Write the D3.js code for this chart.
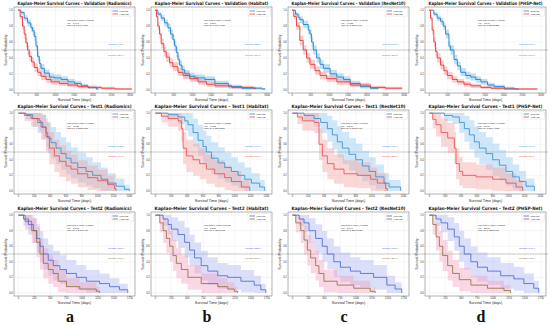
<!DOCTYPE html>
<html><head><meta charset="utf-8">
<script src="https://cdn.jsdelivr.net/npm/d3@7"></script>
<style>body{margin:0;background:#fff}svg{display:block}</style>
</head><body><svg id="c" width="550" height="325"></svg>
<script>
const models = ["Radiomics", "Habitat", "ResNet10", "PHSP-Net"];
const cohorts = ["Validation", "Test1", "Test2"];
const panelLetters = ["a", "b", "c", "d"];
const groupLabels = ["Low risk", "High risk"];
const xTicksValidation = [0, 500, 1000, 1500, 2000, 2500, 3000];
const xTicksTest1 = [0, 200, 400, 600, 800, 1000, 1200, 1400];
const xTicksTest2 = [0, 250, 500, 750, 1000, 1250, 1500, 1750];
const yTicks = [0, 0.2, 0.4, 0.6, 0.8, 1.0];

// Kaplan-Meier curves: [time (days), survival probability]
const valRadLow = [[0,1],[72,0.97],[162,0.9],[252,0.84],[342,0.78],[387,0.74],[432,0.67],[477,0.55],[522,0.42],[567,0.33],[612,0.27],[702,0.21],[837,0.16],[972,0.15],[1152,0.13],[1332,0.1],[1512,0.08],[1692,0.05],[1872,0.03],[2097,0.01],[2150,0.01]];
const valRadHigh = [[0,1],[54,0.92],[117,0.8],[162,0.7],[207,0.59],[252,0.5],[297,0.42],[360,0.35],[432,0.28],[522,0.22],[612,0.17],[747,0.13],[882,0.1],[1107,0.08],[1332,0.06],[1602,0.04],[1872,0.03],[2232,0.02],[2592,0.01],[3042,0.01]];
const valHabLow = [[0,1],[72,0.95],[162,0.9],[252,0.84],[342,0.78],[414,0.7],[477,0.63],[522,0.55],[567,0.47],[612,0.38],[657,0.31],[720,0.25],[792,0.2],[927,0.17],[1062,0.15],[1332,0.13],[1602,0.08],[1962,0.04],[2322,0.02],[2862,0.01],[2950,0.01]];
const valHabHigh = [[0,1],[36,0.92],[72,0.8],[117,0.7],[162,0.58],[234,0.48],[297,0.41],[387,0.34],[477,0.29],[612,0.22],[747,0.18],[927,0.14],[1152,0.1],[1377,0.07],[1602,0.05],[2052,0.03],[2637,0.02],[2700,0.02]];
const valResLow = [[0,1],[90,0.95],[162,0.91],[207,0.88],[297,0.82],[432,0.75],[477,0.7],[522,0.6],[567,0.5],[657,0.4],[747,0.32],[837,0.27],[1017,0.2],[1197,0.16],[1377,0.13],[1557,0.08],[1827,0.04],[2097,0.02],[2300,0.01]];
const valResHigh = [[0,1],[45,0.92],[117,0.8],[207,0.62],[297,0.5],[387,0.4],[477,0.32],[612,0.24],[747,0.18],[927,0.14],[1197,0.1],[1557,0.06],[2097,0.03],[2500,0.02],[2950,0.02]];
const valPhsLow = [[0,1],[126,0.95],[216,0.9],[306,0.86],[378,0.8],[441,0.7],[531,0.55],[576,0.5],[666,0.38],[756,0.3],[846,0.22],[981,0.18],[1116,0.16],[1251,0.13],[1386,0.1],[1566,0.06],[1746,0.04],[2016,0.02],[2286,0.01],[2400,0.01]];
const valPhsHigh = [[0,1],[36,0.9],[81,0.75],[126,0.6],[171,0.48],[216,0.4],[306,0.31],[396,0.24],[486,0.18],[621,0.13],[756,0.1],[936,0.07],[1116,0.05],[1386,0.03],[1656,0.02],[2016,0.01],[2900,0.01]];

const t1RadLow = [[0,1],[97,0.98],[181,0.93],[244,0.88],[307,0.82],[349,0.75],[370,0.68],[412,0.62],[475,0.55],[538,0.48],[601,0.42],[664,0.36],[748,0.3],[853,0.25],[937,0.2],[1042,0.15],[1126,0.1],[1231,0.06],[1336,0.02],[1399,0]];
const t1RadHigh = [[0,1],[76,0.97],[160,0.93],[265,0.9],[286,0.82],[349,0.7],[391,0.55],[454,0.45],[517,0.38],[601,0.32],[664,0.28],[748,0.22],[874,0.17],[1000,0.13],[1126,0.08],[1210,0.03],[1231,0]];
const t1HabLow = [[0,1],[160,0.98],[286,0.95],[370,0.9],[412,0.85],[475,0.75],[538,0.65],[601,0.57],[643,0.5],[706,0.42],[790,0.36],[874,0.3],[958,0.25],[1042,0.2],[1126,0.15],[1210,0.1],[1315,0.05],[1378,0]];
const t1HabHigh = [[0,1],[76,0.96],[160,0.93],[286,0.9],[328,0.8],[349,0.55],[391,0.45],[475,0.4],[559,0.35],[643,0.28],[748,0.22],[874,0.17],[958,0.12],[1084,0.05],[1189,0]];
const t1ResLow = [[0,1],[147,0.97],[273,0.93],[357,0.88],[441,0.8],[504,0.72],[567,0.63],[630,0.55],[714,0.47],[798,0.4],[882,0.32],[966,0.25],[1050,0.18],[1155,0.1],[1218,0.05],[1365,0]];
const t1ResHigh = [[0,1],[63,0.95],[126,0.9],[273,0.88],[336,0.6],[378,0.45],[441,0.35],[525,0.28],[651,0.22],[819,0.2],[987,0.15],[1071,0.1],[1176,0.03],[1197,0]];
const t1PhsLow = [[0,1],[189,0.97],[294,0.95],[378,0.88],[441,0.8],[504,0.72],[567,0.63],[630,0.55],[714,0.48],[798,0.4],[882,0.33],[966,0.25],[1050,0.18],[1134,0.12],[1218,0.06],[1323,0]];
const t1PhsHigh = [[0,1],[42,0.92],[84,0.85],[147,0.75],[231,0.68],[315,0.55],[336,0.35],[378,0.25],[420,0.2],[588,0.18],[798,0.15],[966,0.1],[1092,0.05],[1176,0]];

const t2RadLow = [[0,1],[78,0.95],[156,0.88],[234,0.8],[286,0.7],[338,0.6],[390,0.5],[468,0.42],[546,0.35],[650,0.3],[754,0.25],[910,0.2],[1066,0.15],[1274,0.12],[1430,0.08],[1586,0.04],[1716,0]];
const t2RadHigh = [[0,1],[104,0.92],[208,0.8],[286,0.65],[338,0.5],[390,0.38],[468,0.3],[546,0.25],[624,0.15],[754,0.08],[962,0.05],[1222,0.02],[1274,0]];
const t2HabLow = [[0,1],[120,0.95],[198,0.88],[250,0.82],[354,0.75],[458,0.65],[536,0.55],[614,0.45],[718,0.35],[822,0.28],[978,0.22],[1134,0.2],[1342,0.15],[1550,0.1],[1654,0.04],[1732,0]];
const t2HabHigh = [[0,1],[68,0.9],[120,0.8],[172,0.7],[224,0.6],[276,0.48],[328,0.38],[406,0.3],[510,0.2],[718,0.12],[978,0.08],[1134,0.05],[1238,0.02],[1290,0]];
const t2ResLow = [[0,1],[104,0.95],[182,0.9],[260,0.8],[364,0.7],[468,0.6],[546,0.5],[650,0.4],[754,0.33],[910,0.28],[1066,0.25],[1274,0.2],[1482,0.1],[1612,0.05],[1716,0]];
const t2ResHigh = [[0,1],[52,0.9],[130,0.8],[182,0.68],[234,0.55],[286,0.45],[364,0.35],[416,0.25],[494,0.15],[702,0.1],[962,0.06],[1222,0.02],[1300,0]];
const t2PhsLow = [[0,1],[104,0.95],[182,0.9],[286,0.82],[390,0.72],[468,0.6],[546,0.5],[650,0.4],[754,0.33],[910,0.28],[1118,0.22],[1326,0.18],[1482,0.12],[1638,0.06],[1716,0]];
const t2PhsHigh = [[0,1],[52,0.88],[104,0.72],[156,0.6],[208,0.48],[286,0.35],[364,0.25],[468,0.17],[650,0.1],[910,0.06],[1170,0.03],[1274,0]];

// patients per risk group (used for the Greenwood-style confidence band)
const groupSizes = [260, 22, 24];

const pValues = [["0.00000","0.00000","0.00000","0.00000"],["0.00788","0.01532","0.00145","0.00020"],["0.03069","0.00037","0.00126","0.00003"]];
const hazardRatios = [["1.497","1.317","1.452","1.846"],["1.932","1.783","2.245","2.618"],["1.605","2.218","2.047","2.541"]];
const hrIntervals = [["1.246-1.800","1.097-1.580","1.208-1.746","1.523-2.238"],["1.183-3.157","1.113-2.856","1.345-3.748","1.561-4.392"],["1.045-2.466","1.426-3.451","1.316-3.185","1.623-3.979"]];
const mediansLow = [["485.0","552.0","568.0","577.0"],["532.0","641.0","686.0","709.0"],["392.0","583.0","545.0","548.0"]];
const mediansHigh = [["250.0","219.0","298.0","163.0"],["414.0","361.0","357.0","331.0"],["336.0","267.0","259.0","198.0"]];

const curves = [
  [[valRadLow, valRadHigh], [valHabLow, valHabHigh], [valResLow, valResHigh], [valPhsLow, valPhsHigh]],
  [[t1RadLow, t1RadHigh], [t1HabLow, t1HabHigh], [t1ResLow, t1ResHigh], [t1PhsLow, t1PhsHigh]],
  [[t2RadLow, t2RadHigh], [t2HabLow, t2HabHigh], [t2ResLow, t2ResHigh], [t2PhsLow, t2PhsHigh]]
];
const xTicksByCohort = [xTicksValidation, xTicksTest1, xTicksTest2];
const xDomains = [[-110, 3130], [-55, 1470], [-70, 1830]];

const lineColors = [["#2f8ad0", "#e8474c"], ["#2f8ad0", "#e8474c"], ["#4565cf", "#8a6d3b"]];
const bandColors = [["#8cc6ee", "#f5a3a3"], ["#8cc6ee", "#f5a3a3"], ["#a9b2f0", "#f2a0bf"]];

const svg = d3.select("#c");
const colX = [0, 137, 274, 411];
const rowTop = [7, 110, 212];
const rowBottom = [93, 194, 296];
const font = "'Liberation Sans', Arial, sans-serif";

cohorts.forEach((cohort, r) => {
  models.forEach((model, c) => {
    const x0 = colX[c] + 14, x1 = colX[c] + 135;
    const y0 = rowTop[r], y1 = rowBottom[r];
    const x = d3.scaleLinear().domain(xDomains[r]).range([x0, x1]);
    const y = d3.scaleLinear().domain([-0.04, 1.04]).range([y1, y0]);
    const g = svg.append("g");
    const clipId = `clip${r}${c}`;
    g.append("clipPath").attr("id", clipId).append("rect")
      .attr("x", x0).attr("y", y0).attr("width", x1 - x0).attr("height", y1 - y0);

    // grid
    const xt = xTicksByCohort[r];
    g.selectAll(".gx").data(xt).enter().append("line")
      .attr("x1", d => x(d)).attr("x2", d => x(d)).attr("y1", y0).attr("y2", y1)
      .attr("stroke", "#e4e4e4").attr("stroke-width", 0.35);
    g.selectAll(".gy").data(yTicks).enter().append("line")
      .attr("x1", x0).attr("x2", x1).attr("y1", d => y(d)).attr("y2", d => y(d))
      .attr("stroke", "#e4e4e4").attr("stroke-width", 0.35);

    // median reference line
    g.append("line").attr("x1", colX[c] + 1).attr("x2", colX[c] + 137)
      .attr("y1", y(0.5)).attr("y2", y(0.5)).attr("stroke", "#9a9a9a").attr("stroke-width", 0.55);

    const plot = g.append("g").attr("clip-path", `url(#${clipId})`);
    const n = groupSizes[r];
    curves[r][c].forEach((data, k) => {
      const half = d => 1.96 * Math.sqrt(Math.max(d[1] * (1 - d[1]), 0.0004) / n);
      const area = d3.area().curve(d3.curveStepAfter)
        .x(d => x(d[0]))
        .y0(d => y(Math.max(0, d[1] - half(d))))
        .y1(d => y(Math.min(1, d[1] + half(d))));
      plot.append("path").attr("d", area(data))
        .attr("fill", bandColors[r][k]).attr("fill-opacity", r === 0 ? 0.55 : 0.42);
    });
    curves[r][c].forEach((data, k) => {
      const line = d3.line().curve(d3.curveStepAfter).x(d => x(d[0])).y(d => y(d[1]));
      plot.append("path").attr("d", line(data)).attr("fill", "none")
        .attr("stroke", lineColors[r][k]).attr("stroke-width", r === 0 ? 1.0 : 0.8);
    });

    // frame
    g.append("rect").attr("x", x0).attr("y", y0).attr("width", x1 - x0).attr("height", y1 - y0)
      .attr("fill", "none").attr("stroke", "#444").attr("stroke-width", 0.4);

    // ticks
    g.selectAll(".xtl").data(xt).enter().append("text")
      .attr("x", d => x(d)).attr("y", y1 + 3.3).attr("text-anchor", "middle")
      .attr("font-family", font).attr("font-size", 2.6).attr("fill", "#333").text(d => d);
    g.selectAll(".ytl").data(yTicks).enter().append("text")
      .attr("x", x0 - 1.2).attr("y", d => y(d) + 0.9).attr("text-anchor", "end")
      .attr("font-family", font).attr("font-size", 2.6).attr("fill", "#333").text(d => d.toFixed(1));

    // axis labels
    g.append("text").attr("x", (x0 + x1) / 2).attr("y", y1 + 7.6).attr("text-anchor", "middle")
      .attr("font-family", font).attr("font-size", 3.7).attr("fill", "#222").text("Survival Time (days)");
    g.append("text").attr("transform", `translate(${colX[c] + 6.5},${(y0 + y1) / 2}) rotate(-90)`)
      .attr("text-anchor", "middle").attr("font-family", font).attr("font-size", 3.7)
      .attr("fill", "#222").text("Survival Probability");

    // title (horizontally condensed to fit the panel)
    const title = g.append("text").attr("text-anchor", "middle")
      .attr("font-family", "'DejaVu Sans', sans-serif").attr("font-weight", "bold").attr("font-size", 4.6)
      .attr("fill", "#111").text(`Kaplan-Meier Survival Curves - ${cohort} (${model})`);
    const natural = title.node().getComputedTextLength();
    const sx = Math.min(1, 114 / natural);
    title.attr("transform", `translate(${(x0 + x1) / 2},${y0 - 1.6}) scale(${sx},1)`);

    // stats box text
    const stats = [`Log-rank p-value: ${pValues[r][c]}`, `HR = ${hazardRatios[r][c]}`, `95% CI: ${hrIntervals[r][c]}`];
    stats.forEach((s, i) => g.append("text").attr("x", colX[c] + 67).attr("y", y0 + 14 + i * 2.7)
      .attr("font-family", font).attr("font-size", 2.3).attr("fill", "#222").text(s));

    // legend
    const lx = x1 - 24, ly = y0 + 1.5;
    g.append("rect").attr("x", lx).attr("y", ly).attr("width", 22.5).attr("height", 7.6)
      .attr("fill", "#fff").attr("fill-opacity", 0.85).attr("stroke", "#ccc").attr("stroke-width", 0.3).attr("rx", 0.6);
    groupLabels.forEach((lab, k) => {
      const yy = ly + 2.5 + k * 3;
      g.append("line").attr("x1", lx + 1.5).attr("x2", lx + 7).attr("y1", yy).attr("y2", yy)
        .attr("stroke", lineColors[r][k]).attr("stroke-width", 0.8);
      g.append("text").attr("x", lx + 8.5).attr("y", yy + 0.9).attr("font-family", font)
        .attr("font-size", 2.4).attr("fill", "#222").text(lab);
    });

    // median labels
    g.append("text").attr("x", colX[c] + 108).attr("y", y(0.56)).attr("font-family", font)
      .attr("font-size", 2.5).attr("fill", lineColors[r][0]).text(`Median: ${mediansLow[r][c]}`);
    g.append("text").attr("x", colX[c] + 108).attr("y", y(0.43)).attr("font-family", font)
      .attr("font-size", 2.5).attr("fill", lineColors[r][1]).text(`Median: ${mediansHigh[r][c]}`);
  });
});

// column letters
panelLetters.forEach((l, c) => {
  svg.append("text").attr("x", colX[c] + 70).attr("y", 322).attr("text-anchor", "middle")
    .attr("font-family", "'Liberation Serif', 'Times New Roman', serif").attr("font-weight", "bold")
    .attr("font-size", 16).attr("fill", "#111").text(l);
});
</script></body></html>
